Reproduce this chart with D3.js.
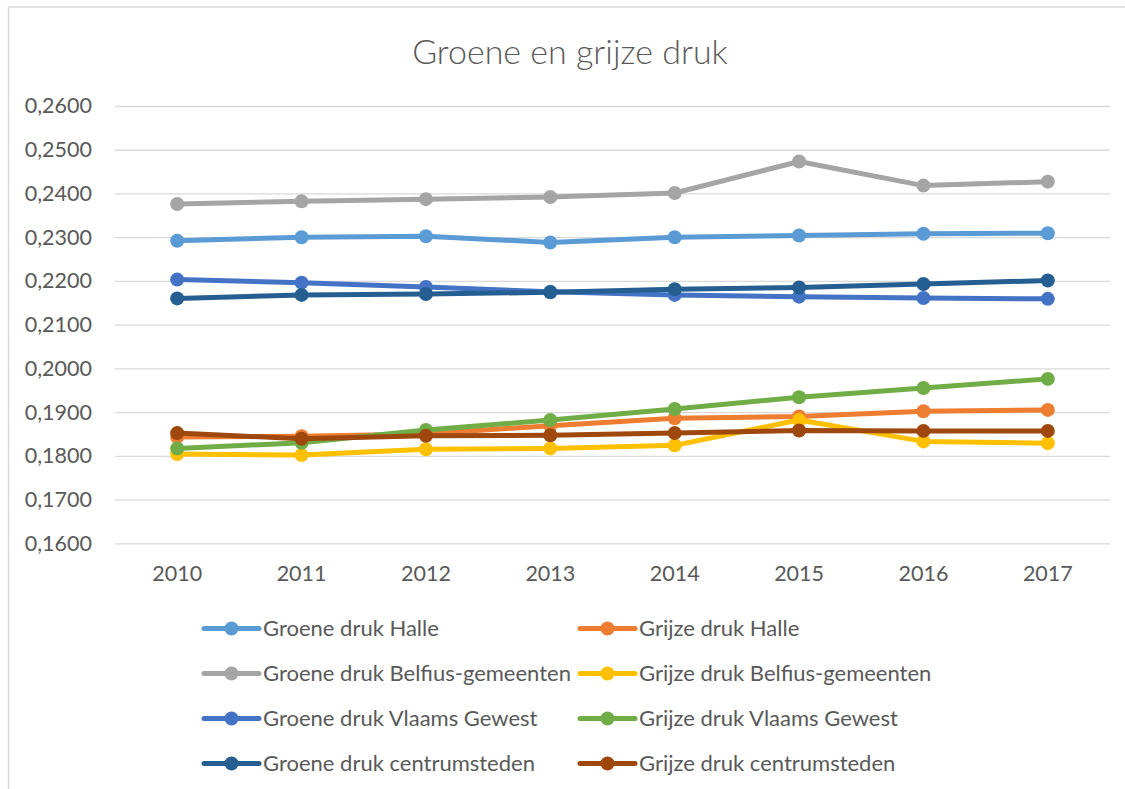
<!DOCTYPE html>
<html>
<head>
<meta charset="utf-8">
<script src="https://cdn.jsdelivr.net/npm/d3@7"></script>
<style>
  html, body { margin: 0; padding: 0; background: #fff; }
  svg { display: block; font-family: Lato, "Open Sans", sans-serif; }
</style>
</head>
<body>
<svg id="chart" width="1125" height="789"></svg>
<script>
const years = ["2010", "2011", "2012", "2013", "2014", "2015", "2016", "2017"];
const yTicks = [0.16, 0.17, 0.18, 0.19, 0.20, 0.21, 0.22, 0.23, 0.24, 0.25, 0.26];
const seriesNames = [
  "Groene druk Halle", "Grijze druk Halle",
  "Groene druk Belfius-gemeenten", "Grijze druk Belfius-gemeenten",
  "Groene druk Vlaams Gewest", "Grijze druk Vlaams Gewest",
  "Groene druk centrumsteden", "Grijze druk centrumsteden"
];
const seriesColors = ["#5B9BD5", "#ED7D31", "#A5A5A5", "#FFC000", "#4472C4", "#70AD47", "#255E91", "#9E480E"];

const groeneHalle    = [0.2292, 0.2300, 0.2302, 0.2288, 0.2300, 0.2304, 0.2308, 0.2309];
const grijzeHalle    = [0.1843, 0.1845, 0.1850, 0.1869, 0.1886, 0.1890, 0.1902, 0.1905];
const groeneBelfius  = [0.2376, 0.2382, 0.2387, 0.2392, 0.2401, 0.2473, 0.2418, 0.2427];
const grijzeBelfius  = [0.1804, 0.1802, 0.1815, 0.1817, 0.1824, 0.1882, 0.1833, 0.1829];
const groeneVlaams   = [0.2203, 0.2196, 0.2186, 0.2175, 0.2168, 0.2164, 0.2161, 0.2159];
const grijzeVlaams   = [0.1817, 0.1830, 0.1859, 0.1882, 0.1907, 0.1934, 0.1955, 0.1976];
const groeneCentrum  = [0.2160, 0.2168, 0.2170, 0.2174, 0.2181, 0.2185, 0.2193, 0.2201];
const grijzeCentrum  = [0.1852, 0.1839, 0.1846, 0.1847, 0.1852, 0.1858, 0.1857, 0.1857];

const seriesValues = [groeneHalle, grijzeHalle, groeneBelfius, grijzeBelfius,
                      groeneVlaams, grijzeVlaams, groeneCentrum, grijzeCentrum];

const series = seriesNames.map((name, i) => ({
  name, color: seriesColors[i],
  values: seriesValues[i].map((v, j) => ({ year: years[j], value: v }))
}));

const svg = d3.select("#chart");
const textColor = "#595959";
const gridColor = "#D9D9D9";

// chart frame
svg.append("rect")
  .attr("x", 8.5).attr("y", 7).attr("width", 1200).attr("height", 900)
  .attr("fill", "#fff").attr("stroke", gridColor).attr("stroke-width", 1.5);

// title
svg.append("text")
  .attr("x", 570).attr("y", 64)
  .attr("text-anchor", "middle")
  .attr("fill", textColor)
  .style("font-size", "34px")
  .style("font-weight", 300)
  .text("Groene en grijze druk");

const plotLeft = 115, plotRight = 1110, plotTop = 106, plotBottom = 543.3;

const x = d3.scaleBand().domain(years).range([plotLeft, plotRight]);
const y = d3.scaleLinear().domain([0.16, 0.26]).range([plotBottom, plotTop]);
const cx = d => x(d) + x.bandwidth() / 2;

// gridlines + y labels
const yAxis = d3.axisLeft(y)
  .tickValues(yTicks)
  .tickSize(-(plotRight - plotLeft))
  .tickPadding(23)
  .tickFormat(d => d3.format(".4f")(d).replace(".", ","));
const gy = svg.append("g").attr("transform", `translate(${plotLeft},0)`).call(yAxis);
gy.select(".domain").remove();
gy.selectAll(".tick line").attr("stroke", gridColor).attr("stroke-width", 1.3);
gy.selectAll(".tick text")
  .attr("fill", textColor)
  .style("font-size", "21.5px")
  .style("font-family", "Lato, 'Open Sans', sans-serif");

// x labels
const xAxis = d3.axisBottom(x).tickSize(0).tickPadding(22);
const gx = svg.append("g").attr("transform", `translate(0,${plotBottom})`).call(xAxis);
gx.select(".domain").remove();
gx.selectAll(".tick text")
  .attr("fill", textColor)
  .style("font-size", "21.5px")
  .style("font-family", "Lato, 'Open Sans', sans-serif");

// lines
const line = d3.line().x(d => cx(d.year)).y(d => y(d.value));
const sg = svg.append("g").selectAll("g").data(series).join("g");
sg.append("path")
  .attr("d", d => line(d.values))
  .attr("fill", "none")
  .attr("stroke", d => d.color)
  .attr("stroke-width", 5)
  .attr("stroke-linejoin", "round")
  .attr("stroke-linecap", "round");
sg.selectAll("circle")
  .data(d => d.values.map(v => ({ ...v, color: d.color })))
  .join("circle")
  .attr("cx", d => cx(d.year))
  .attr("cy", d => y(d.value))
  .attr("r", 7)
  .attr("fill", d => d.color);

// legend
const legColX = [204, 580];
const legRow0 = 628.5, legRowStep = 45;
const lg = svg.append("g").selectAll("g").data(series).join("g")
  .attr("transform", (d, i) => `translate(${legColX[i % 2]},${legRow0 + Math.floor(i / 2) * legRowStep})`);
lg.append("line")
  .attr("x1", 0).attr("x2", 55).attr("y1", 0).attr("y2", 0)
  .attr("stroke", d => d.color).attr("stroke-width", 5).attr("stroke-linecap", "round");
lg.append("circle").attr("cx", 27.5).attr("cy", 0).attr("r", 7).attr("fill", d => d.color);
lg.append("text")
  .attr("x", 59).attr("y", 0).attr("dy", "0.35em")
  .attr("fill", textColor)
  .style("font-size", "22px")
  .text(d => d.name);
</script>
</body>
</html>
